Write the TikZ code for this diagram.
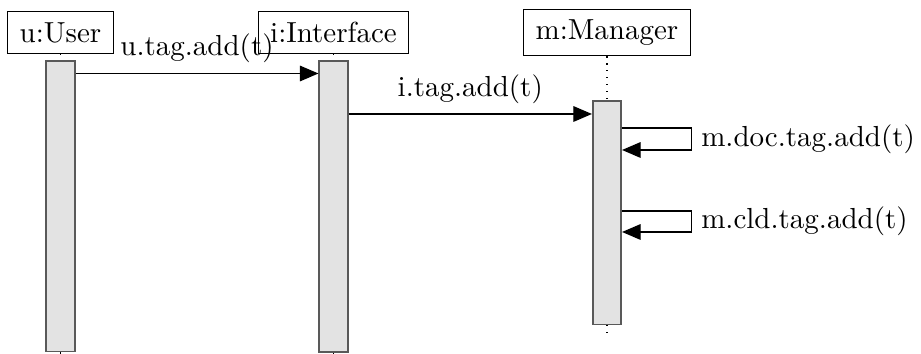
\documentclass[tikz,border=0pt]{standalone}
\usepackage{amssymb}
\usepackage{amsmath}
\usepackage{tikz}
\usetikzlibrary{arrows.meta,positioning}

\begin{document}
\begin{tikzpicture}[x=0.3448pt, y=-0.3448pt,
    obj/.style={draw, rectangle, inner xsep=4.1pt, inner ysep=3.6pt},
    act/.style={draw=black!65, fill=black!11, line width=0.6pt, minimum width=9.8pt, inner sep=0pt},
    msg/.style={-{Triangle[length=6.4pt, width=5.4pt]}},
    life/.style={dotted}]
    \useasboundingbox (0,0) rectangle (921,354);
    \node[obj] (u) at (60.5,32.5) {u:User};
    \node[obj] (i) at (333.5,32.5) {i:Interface};
    \node[obj] (m) at (607,32.5) {m:Manager};
    \node[act, minimum height=100.3pt] (ua) [below=2.1pt of u] {};
    \node[act, minimum height=100.3pt] (ia) [below=2.1pt of i] {};
    \node[act, minimum height=76.9pt] (ma) [below=15.2pt of m] {};
    \coordinate (uend) at (60.5,354);
    \coordinate (iend) at (333.5,354);
    \coordinate (mend) at (607,336);
    \path[life]
     (u) edge (ua)
     (i) edge (ia)
     (m) edge (ma)
     (ua) edge (uend)
     (ia) edge (iend)
     (ma) edge (mend);
    % messages
    \coordinate (c1) at (0,73.5);
    \coordinate (c2) at (0,114);
    \coordinate (s1) at (0,128);
    \coordinate (s2) at (0,211);
    \draw[msg] (ua.east |- c1) -- node[above] {u.tag.add(t)} (ia.west |- c1);
    \draw[msg] (ia.east |- c2) -- node[above] {i.tag.add(t)} (ma.west |- c2);
    \draw[msg] (ma.east |- s1) -- ++(69,0) -- node[right] {m.doc.tag.add(t)} ++(0,22) -- ++(-69,0);
    \draw[msg] (ma.east |- s2) -- ++(69,0) -- node[right] {m.cld.tag.add(t)} ++(0,21) -- ++(-69,0);
\end{tikzpicture}
\end{document}
